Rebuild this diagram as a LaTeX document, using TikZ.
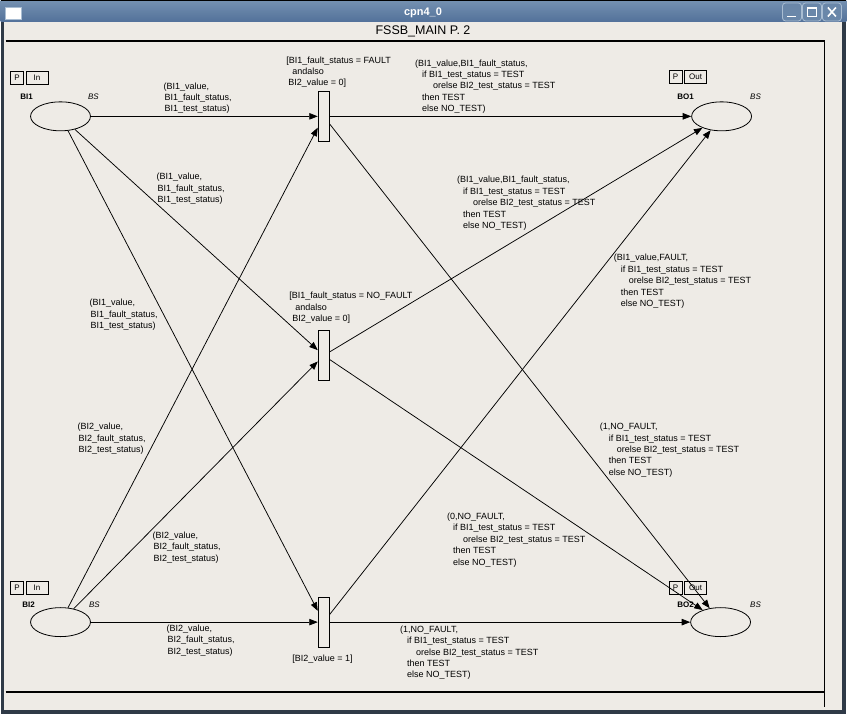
\documentclass[tikz,border=0pt]{standalone}
\usepackage{fontspec}
\setmainfont{Liberation Sans}
\usetikzlibrary{shapes.geometric,arrows.meta}
\definecolor{winbg}{HTML}{EEEBE6}
\definecolor{frame}{HTML}{2F3A47}
\definecolor{tbtop}{HTML}{7591B1}
\definecolor{tbbot}{HTML}{52719A}
\definecolor{btnfill}{HTML}{6A87A9}
\definecolor{btnline}{HTML}{A9BDD2}
\begin{document}
\begin{tikzpicture}[x=1pt,y=-1pt,
  place/.style={ellipse, draw, line width=0.8pt, minimum width=60pt, minimum height=29pt, inner sep=0pt},
  trans/.style={rectangle, draw, line width=0.8pt, minimum width=11pt, minimum height=50pt, inner sep=0pt, fill=winbg},
  arc/.style={line width=0.75pt, -{Triangle[length=8.5pt,width=6.5pt]}},
  lbl/.style={anchor=north west, inner sep=0pt, align=left, font=\fontsize{9}{11.4}\selectfont},
  port/.style={draw, line width=0.7pt, inner sep=0pt, minimum height=13pt, font=\fontsize{8}{9}\selectfont},
  pname/.style={inner sep=0pt, font=\fontsize{8}{9}\selectfont\bfseries},
  ptype/.style={inner sep=0pt, font=\fontsize{8}{9}\selectfont\itshape},
  btn/.style={draw=btnline, fill=btnfill, line width=0.8pt, rounded corners=3pt},
  glyph/.style={white, line width=1.6pt}
]
% window frame and background
\fill[frame] (0,0) rectangle (847,715);
\fill[winbg] (3,22) rectangle (843,711);
\shade[top color=tbtop, bottom color=tbbot] (0,0) rectangle (847,22);
\draw[black, line width=1.2pt] (0,0.6) -- (847,0.6);
% icon
\fill[white, draw=btnline, line width=0.8pt] (5,7) rectangle (21,19);
% buttons
\draw[btn] (783,3) rectangle (802,21);
\draw[btn] (803,3) rectangle (822,21);
\draw[btn] (823,3) rectangle (842,21);
\draw[glyph] (788,16.5) -- (797,16.5);
\draw[white, line width=1.2pt] (808,8) rectangle (817,16.5);
\draw[glyph] (828.5,7.5) -- (836.5,16.5) (836.5,7.5) -- (828.5,16.5);
\node[white, font=\fontsize{11}{12}\selectfont\bfseries] (wtitle) at (423,12.5) {cpn4\_0};
% page title and page frame lines
\node[font=\fontsize{12.5}{14}\selectfont] (ptitle) at (423,31.5) {FSSB\_MAIN P. 2};
\draw[line width=1.3pt] (5,41) -- (825,41) -- (825,708);
\draw[line width=1.3pt] (5,693) -- (825,693);

% places
\node[place] (BI1) at (60,116.5) {};
\node[place] (BI2) at (60,623) {};
\node[place] (BO1) at (722,116.5) {};
\node[place] (BO2) at (721,623) {};
\node[pname] (nBI1) at (26,97) {BI1};
\node[ptype] (tBI1) at (93,97) {BS};
\node[pname] (nBI2) at (28,606) {BI2};
\node[ptype] (tBI2) at (94,606) {BS};
\node[pname] (nBO1) at (686,97) {BO1};
\node[ptype] (tBO1) at (756,97) {BS};
\node[pname] (nBO2) at (686,606) {BO2};
\node[ptype] (tBO2) at (756,606) {BS};
% port tags
\node[port, minimum width=13pt] (pBI1) at (16.5,77.5) {P};
\node[port, minimum width=22pt] (iBI1) at (36.5,77.5) {In};
\node[port, minimum width=13pt] (pBI2) at (16.5,589) {P};
\node[port, minimum width=22pt] (iBI2) at (36.5,589) {In};
\node[port, minimum width=13pt] (pBO1) at (676,77) {P};
\node[port, minimum width=22pt] (oBO1) at (696,77) {Out};
\node[port, minimum width=13pt] (pBO2) at (676,589) {P};
\node[port, minimum width=22pt] (oBO2) at (696,589) {Out};

% transitions
\node[trans] (T1) at (323.5,116.5) {};
\node[trans] (T2) at (323.5,356) {};
\node[trans] (T3) at (323.5,623) {};

% arcs
\draw[arc] (BI1) -- (T1);
\draw[arc] (BI1) -- (T2);
\draw[arc] (BI1) -- (T3);
\draw[arc] (BI2) -- (T1);
\draw[arc] (BI2) -- (T2);
\draw[arc] (BI2) -- (T3);
\draw[arc] (T1) -- (BO1);
\draw[arc] (T1) -- (BO2);
\draw[arc] (T2) -- (BO1);
\draw[arc] (T2) -- (BO2);
\draw[arc] (T3) -- (BO1);
\draw[arc] (T3) -- (BO2);

% guards
\node[lbl] (g1) at (286,56.5) {[BI1\_fault\_status = FAULT\\\hspace*{6pt}andalso\\\hspace*{2pt}BI2\_value = 0]};
\node[lbl] (g2) at (289,292.5) {[BI1\_fault\_status = NO\_FAULT\\\hspace*{6pt}andalso\\\hspace*{3pt}BI2\_value = 0]};
\node[lbl] (g3) at (292,655.5) {[BI2\_value = 1]};

% input arc labels
\node[lbl] (a1) at (163,82.5) {(BI1\_value,\\\hspace*{1pt}BI1\_fault\_status,\\\hspace*{1pt}BI1\_test\_status)};
\node[lbl] (a2) at (156,173.5) {(BI1\_value,\\\hspace*{1pt}BI1\_fault\_status,\\\hspace*{1pt}BI1\_test\_status)};
\node[lbl] (a3) at (89,299.5) {(BI1\_value,\\\hspace*{1pt}BI1\_fault\_status,\\\hspace*{1pt}BI1\_test\_status)};
\node[lbl] (a4) at (77,423.5) {(BI2\_value,\\\hspace*{1pt}BI2\_fault\_status,\\\hspace*{1pt}BI2\_test\_status)};
\node[lbl] (a5) at (152,532.5) {(BI2\_value,\\\hspace*{1pt}BI2\_fault\_status,\\\hspace*{1pt}BI2\_test\_status)};
\node[lbl] (a6) at (166,625.5) {(BI2\_value,\\\hspace*{1pt}BI2\_fault\_status,\\\hspace*{1pt}BI2\_test\_status)};

% output arc labels
\node[lbl] (o1) at (415,59.5) {(BI1\_value,BI1\_fault\_status,\\\hspace*{7pt}if BI1\_test\_status = TEST\\\hspace*{18pt}orelse BI2\_test\_status = TEST\\\hspace*{7pt}then TEST\\\hspace*{7pt}else NO\_TEST)};
\node[lbl] (o2) at (457,176.5) {(BI1\_value,BI1\_fault\_status,\\\hspace*{6pt}if BI1\_test\_status = TEST\\\hspace*{16pt}orelse BI2\_test\_status = TEST\\\hspace*{6pt}then TEST\\\hspace*{6pt}else NO\_TEST)};
\node[lbl] (o3) at (614,254.5) {(BI1\_value,FAULT,\\\hspace*{7pt}if BI1\_test\_status = TEST\\\hspace*{15pt}orelse BI2\_test\_status = TEST\\\hspace*{7pt}then TEST\\\hspace*{7pt}else NO\_TEST)};
\node[lbl] (o4) at (600,423.5) {(1,NO\_FAULT,\\\hspace*{9pt}if BI1\_test\_status = TEST\\\hspace*{17pt}orelse BI2\_test\_status = TEST\\\hspace*{9pt}then TEST\\\hspace*{9pt}else NO\_TEST)};
\node[lbl] (o5) at (447,513.5) {(0,NO\_FAULT,\\\hspace*{6pt}if BI1\_test\_status = TEST\\\hspace*{16pt}orelse BI2\_test\_status = TEST\\\hspace*{6pt}then TEST\\\hspace*{6pt}else NO\_TEST)};
\node[lbl] (o6) at (400,626.5) {(1,NO\_FAULT,\\\hspace*{7pt}if BI1\_test\_status = TEST\\\hspace*{16pt}orelse BI2\_test\_status = TEST\\\hspace*{7pt}then TEST\\\hspace*{7pt}else NO\_TEST)};
\useasboundingbox (0,0) rectangle (847,715);
\end{tikzpicture}
\end{document}
